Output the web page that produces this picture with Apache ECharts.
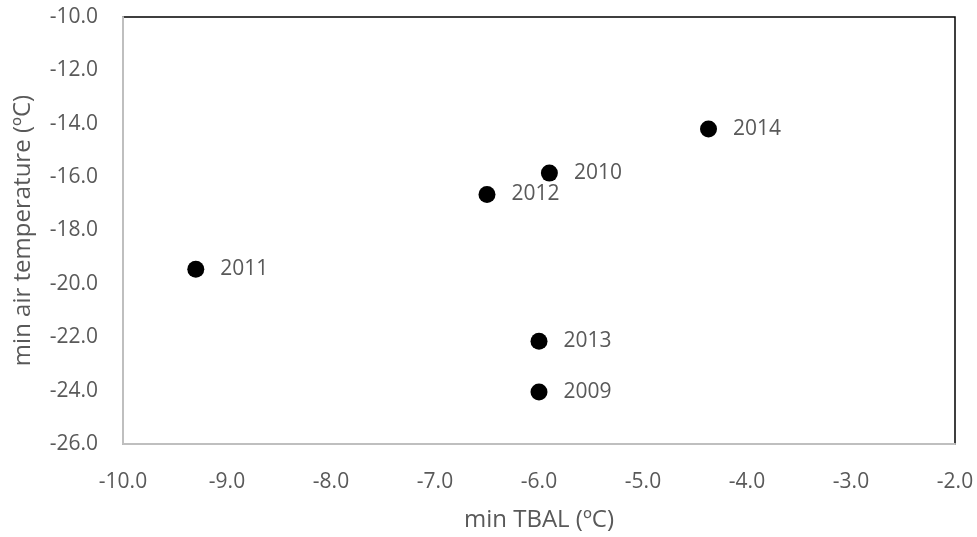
<!DOCTYPE html>
<html>
<head>
<meta charset="utf-8">
<script src="https://cdn.jsdelivr.net/npm/echarts@6/dist/echarts.min.js"></script>
<style>
  html, body { margin: 0; padding: 0; background: #fff; }
  #chart { width: 977px; height: 537px; }
</style>
</head>
<body>
<div id="chart"></div>
<script>
// Seasonal minima: soil (TBAL) vs air temperature, one point per year
const years = ['2009', '2010', '2011', '2012', '2013', '2014'];
const minTBAL = [-6.0, -5.9, -9.3, -6.5, -6.0, -4.37];
const minAirTemp = [-24.05, -15.85, -19.45, -16.65, -22.15, -14.2];

const xTicks = { min: -10, max: -2, interval: 1 };
const yTicks = { min: -26, max: -10, interval: 2 };

const fontFamily = '"Open Sans", "Liberation Sans", sans-serif';
const textColor = '#595959';

const points = years.map((y, i) => ({ value: [minTBAL[i], minAirTemp[i]], name: y }));

const chart = echarts.init(document.getElementById('chart'));
chart.setOption({
  animation: false,
  backgroundColor: '#ffffff',
  grid: {
    left: 123, right: 22, top: 17, bottom: 90,
    show: true, borderColor: '#000000', borderWidth: 1.5
  },
  xAxis: {
    type: 'value',
    min: xTicks.min, max: xTicks.max, interval: xTicks.interval,
    name: 'min TBAL (ºC)',
    nameLocation: 'middle',
    nameGap: 64,
    nameTextStyle: { color: textColor, fontSize: 24, fontFamily },
    axisLine: { show: true, lineStyle: { color: '#bfbfbf', width: 2 } },
    axisTick: { show: false },
    splitLine: { show: false },
    axisLabel: {
      color: textColor, fontSize: 21, fontFamily, margin: 28,
      formatter: v => v.toFixed(1)
    }
  },
  yAxis: {
    type: 'value',
    min: yTicks.min, max: yTicks.max, interval: yTicks.interval,
    name: 'min air temperature (ºC)',
    nameLocation: 'middle',
    nameGap: 88,
    nameTextStyle: { color: textColor, fontSize: 24, fontFamily },
    axisLine: { show: true, lineStyle: { color: '#bfbfbf', width: 2 } },
    axisTick: { show: false },
    splitLine: { show: false },
    axisLabel: {
      color: textColor, fontSize: 21, fontFamily, margin: 25,
      formatter: v => v.toFixed(1)
    }
  },
  series: [{
    type: 'scatter',
    data: points,
    symbol: 'circle',
    symbolSize: 17,
    itemStyle: { color: '#000000', opacity: 1 },
    label: {
      show: true,
      position: 'right',
      distance: 16,
      formatter: p => p.name,
      color: textColor,
      fontSize: 21,
      fontFamily
    }
  }]
});
</script>
</body>
</html>
